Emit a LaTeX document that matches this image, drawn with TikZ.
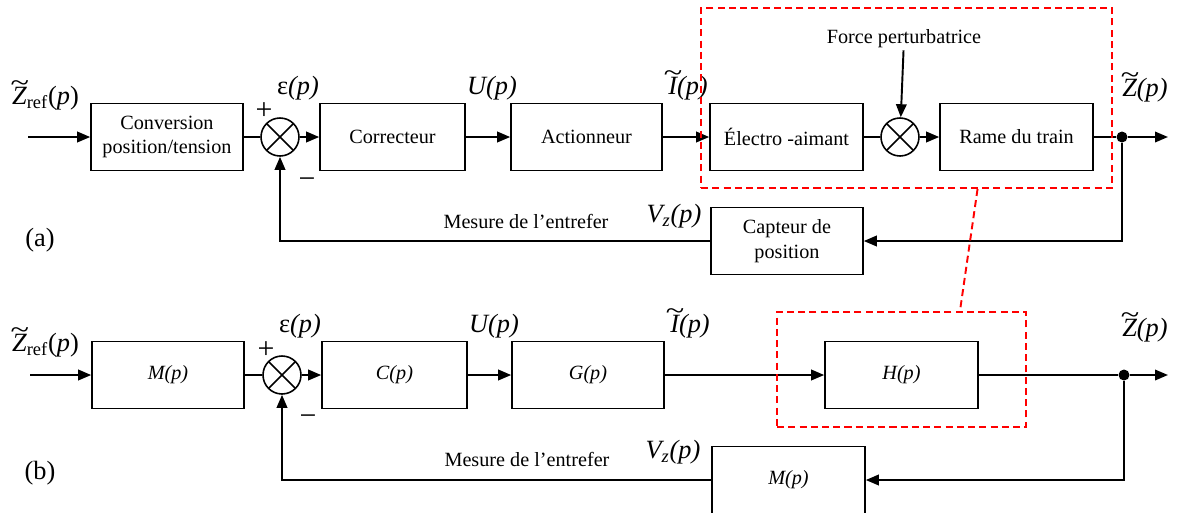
\documentclass[tikz,border=0pt]{standalone}
\usepackage{fontspec}
\setmainfont{Liberation Serif}
\usetikzlibrary{positioning}
\usetikzlibrary{arrows.meta}
\newcommand{\vague}[1]{{\ooalign{#1\cr\hidewidth\raisebox{0.5em}{\scalebox{1.3}[1]{\textasciitilde}}\hidewidth\cr}}}

\begin{document}
\begin{tikzpicture}[x=0.02cm,y=-0.02cm,
		bloc/.style={draw,line width=0.9pt,minimum width=3.04cm,minimum height=1.34cm,inner sep=2pt,align=center,font=\fontsize{11.5}{14}\selectfont},
		somme/.style={draw,circle,line width=0.9pt,minimum size=0.76cm,inner sep=0pt,
			path picture={\draw[line width=0.9pt] (path picture bounding box.north west) -- (path picture bounding box.south east)
				(path picture bounding box.north east) -- (path picture bounding box.south west);}},
		point/.style={circle,fill,inner sep=0pt,minimum size=0.22cm},
		lien/.style={line width=1.1pt},
		fleche/.style={line width=1.1pt,-{Triangle[length=2.6mm,width=2.1mm]}},
		signal/.style={font=\fontsize{15}{17}\selectfont,inner sep=1pt},
		texte/.style={font=\fontsize{11.5}{14}\selectfont,inner sep=1pt},
		zone/.style={draw=red,line width=1.1pt,dash pattern=on 4pt off 2.4pt,minimum width=#1},
	]
		\useasboundingbox (0,0) rectangle (1178,512);

		% (a)
		\coordinate(i1) at (28,137);
		\node[bloc](conv) at (167,137){Conversion\\position/tension};
		\node[somme](s1) at (280,137){};
		\node[bloc,minimum width=2.9cm](corr) at (392.5,137){Correcteur};
		\node[bloc,minimum width=3.02cm](act) at (586.5,137){Actionneur};
		\node[bloc,minimum width=3.06cm](elec) at (786.5,137){Électro -aimant};
		\node[somme](s2) at (900,137){};
		\node[bloc,minimum width=3.06cm](rame) at (1016.5,137){Rame du train};
		\node[point](j1) at (1122,137){};
		\coordinate(o1) at (1168,137);
		\node[bloc](capt) at (787,241){Capteur de\\position};
		\node[texte](force) at (904,39){Force perturbatrice};

		\node[signal,anchor=west](zr1) at (10,98){\textit{\vague{Z}}\textsubscript{ref}(\textit{p})};
		\node[signal](e1) at (298,88){ε\textit{(p)}};
		\node[signal](u1) at (492,88){\textit{U(p)}};
		\node[signal](c1) at (688,88){\textit{\vague{I}(p)}};
		\node[signal](z1) at (1145,90){\textit{\vague{Z}(p)}};
		\node[signal](v1) at (674,216){\textit{V\textsubscript{z}(p)}};
		\node[texte](m1) at (526,221){Mesure de l’entrefer};
		\node[signal,font=\fontsize{17}{17}\selectfont](p1) at (264,111){+};
		\node[signal,font=\fontsize{17}{17}\selectfont](n1) at (307,183){−};
		\node[signal](a) at (40,240){(a)};

		\draw[fleche] (i1) -- (conv);
		\draw[lien] (conv) -- (s1);
		\draw[fleche] (s1) -- (corr);
		\draw[fleche] (corr) -- (act);
		\draw[fleche] (act) -- (elec);
		\draw[lien] (elec) -- (s2);
		\draw[fleche] (s2) -- (rame);
		\draw[fleche] (force) -- (s2);
		\draw[lien] (rame) -- (j1);
		\draw[fleche] (j1) -- (o1);
		\draw[fleche] (j1) |- (capt);
		\draw[fleche] (capt) -| (s1);

		% (b)
		\coordinate(i2) at (30,375);
		\node[bloc](M1) at (168,375){\textit{M(p)}};
		\node[somme](s3) at (282,375){};
		\node[bloc,minimum width=2.9cm](C) at (394.5,375){\textit{C(p)}};
		\node[bloc](G) at (588,375){\textit{G(p)}};
		\node[bloc,minimum width=3.06cm](H) at (901.5,375){\textit{H(p)}};
		\node[point](j2) at (1124,375){};
		\coordinate(o2) at (1168,375);
		\node[bloc,minimum width=3.06cm](M2) at (788.5,480){\textit{M(p)}};

		\node[signal,anchor=west](zr2) at (10,345){\textit{\vague{Z}}\textsubscript{ref}(\textit{p})};
		\node[signal](e2) at (300,326){ε\textit{(p)}};
		\node[signal](u2) at (494,326){\textit{U(p)}};
		\node[signal](c2) at (690,326){\textit{\vague{I}(p)}};
		\node[signal](z2) at (1145,330){\textit{\vague{Z}(p)}};
		\node[signal](v2) at (673,452){\textit{V\textsubscript{z}(p)}};
		\node[texte](m2) at (527,459){Mesure de l’entrefer};
		\node[signal,font=\fontsize{17}{17}\selectfont](p2) at (266,350){+};
		\node[signal,font=\fontsize{17}{17}\selectfont](n2) at (308,420){−};
		\node[signal](b) at (40,473){(b)};

		\draw[fleche] (i2) -- (M1);
		\draw[lien] (M1) -- (s3);
		\draw[fleche] (s3) -- (C);
		\draw[fleche] (C) -- (G);
		\draw[fleche] (G) -- (H);
		\draw[lien] (H) -- (j2);
		\draw[fleche] (j2) -- (o2);
		\draw[fleche] (j2) |- (M2);
		\draw[fleche] (M2) -| (s3);

		% zones
		\node[zone=8.22cm,minimum height=3.6cm](zA) at (906.5,98){};
		\node[zone=4.98cm,minimum height=2.3cm](zB) at (901.5,369.5){};
		\draw[draw=red,line width=1.1pt,dash pattern=on 4pt off 2.4pt] (zA.-52.3) -- (zB.45);
	\end{tikzpicture}
\end{document}
